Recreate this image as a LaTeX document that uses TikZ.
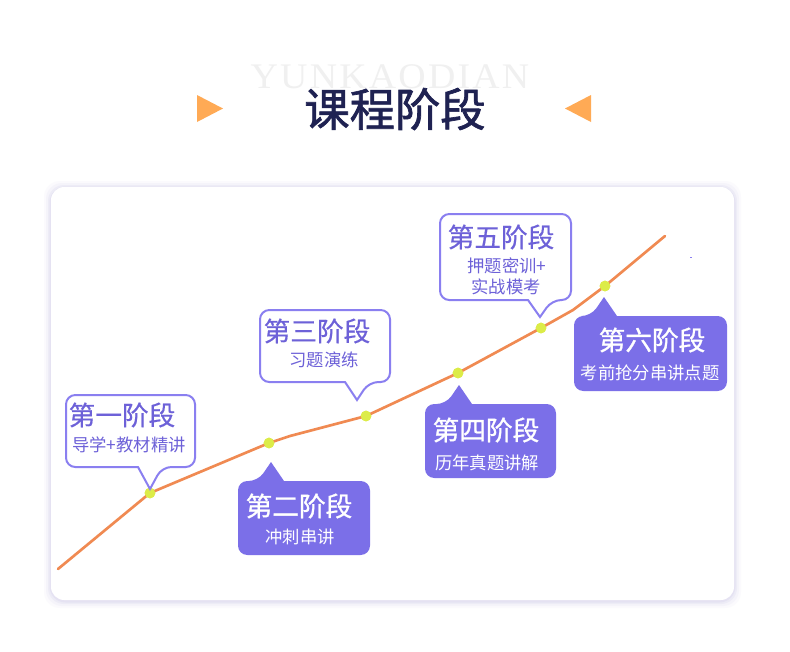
\documentclass[tikz,border=0pt]{standalone}
\usepackage{fontspec}
\setmainfont{Liberation Serif}
\newfontfamily\cjk{Noto Sans CJK SC}
\newfontfamily\cjkm{Noto Sans CJK SC}[FakeBold=0.5]
\newfontfamily\cjkh{Noto Sans CJK SC}[FakeBold=1]
\newfontfamily\cjkb{Noto Sans CJK SC}[BoldFont=*,AutoFakeBold=1.5]
\newfontfamily\bgfont{Liberation Serif}[LetterSpace=6]
\definecolor{navy}{HTML}{1F2252}
\definecolor{tri}{HTML}{FFAA55}
\definecolor{pline}{HTML}{8A7FF0}
\definecolor{pfill}{HTML}{7B6FE8}
\definecolor{ptext}{HTML}{6D61D8}
\definecolor{curve}{HTML}{F08A52}
\definecolor{dotc}{HTML}{DCEC48}
\definecolor{shad}{HTML}{D9D5EE}
\tikzset{
  outl/.style={draw=pline,line width=1.5pt,fill=white},
  filb/.style={fill=pfill},
  headO/.style={text=ptext,font=\cjkm\fontsize{20}{22}\selectfont,inner sep=0pt},
  subO/.style={text=ptext,font=\cjk\fontsize{13}{14}\selectfont,inner sep=0pt},
  headF/.style={text=white,font=\cjkh\fontsize{20}{22}\selectfont,inner sep=0pt},
  subF/.style={text=white,font=\cjk\fontsize{13}{14}\selectfont,inner sep=0pt},
  dotn/.style={circle,fill=dotc,minimum size=8pt,inner sep=0pt},
}
% callout with tail pointing down
\newcommand\calldown[8]{%
  \path[#8] (#1,#2) [rounded corners=7] -- (#3,#2) -- (#3,#4) -- (#5+12,#4) [sharp corners] -- (#6,#7) -- (#5-12,#4) [rounded corners=7] -- (#1,#4) -- cycle;}
\newcommand\callup[8]{%
  \path[#8] (#1,#4) [rounded corners=7] -- (#1,#2) -- (#5-13,#2) [sharp corners] -- (#6,#7) -- (#5+13,#2) [rounded corners=7] -- (#3,#2) -- (#3,#4) -- cycle;}
\begin{document}
\begin{tikzpicture}[x=0.75pt,y=-0.75pt]
\useasboundingbox (0,0) rectangle (790,651);
\fill[white] (0,0) rectangle (790,651);
% background lettering
\node[text=black!6,font=\bgfont\fontsize{27}{27}\selectfont,inner sep=0pt,xscale=1.05] (bg) at (390,77) {YUNKAODIAN};
% title
\node[text=navy,font=\cjkb\bfseries\fontsize{34}{36}\selectfont,inner sep=0pt] (title) at (395,109) {课程阶段};
\fill[tri] (197,95) -- (223,108.5) -- (197,122) -- cycle;
\fill[tri] (591,95) -- (565,108.5) -- (591,122) -- cycle;
% card with shadow
\foreach \i/\o in {7/0.10,5/0.15,3/0.25,1.5/0.4}{
  \fill[shad,opacity=\o,rounded corners=12] (51-\i,187-\i+1) rectangle (734+\i,600+\i+1);}
\fill[white,rounded corners=10] (51,187) rectangle (734,600);
% curve
\node[dotn] (d1) at (150,493) {};
\node[dotn] (d2) at (269,443) {};
\node[dotn] (d3) at (366,416) {};
\node[dotn] (d4) at (458,373) {};
\node[dotn] (d5) at (541,328) {};
\node[dotn] (d6) at (605,286) {};
\coordinate (s) at (58,569);
\coordinate (b1) at (290,436);
\coordinate (b2) at (573,310);
\coordinate (e) at (665,236);
\draw[curve,line width=2pt,line join=round,line cap=round] (s) -- (d1.center) -- (d2.center) -- (b1) -- (d3.center) -- (d4.center) -- (d5.center) -- (b2) -- (d6.center) -- (e);
\foreach \n in {d1,d2,d3,d4,d5,d6} \node[dotn] at (\n) {};
\fill[pline] (690,256.5) rectangle (692,257.5);
% callouts
\calldown{66}{395}{195}{467}{150}{150}{489}{outl}
\node[headO] (h1) at (122,415) {第一阶段};
\node[subO] (s1) at (129,445) {导学+教材精讲};

\callup{238}{481}{370}{555}{271}{271}{462}{filb}
\node[headF] (h2) at (299,506) {第二阶段};
\node[subF] (s2) at (300,537) {冲刺串讲};

\calldown{260}{310}{390}{382}{357}{357}{400}{outl}
\node[headO] (h3) at (317,331) {第三阶段};
\node[subO] (s3) at (324,360) {习题演练};

\callup{425}{404}{556}{478}{459}{459}{385}{filb}
\node[headF] (h4) at (486,430) {第四阶段};
\node[subF] (s4) at (487,463) {历年真题讲解};

\calldown{440}{214}{571}{300}{540}{540}{317}{outl}
\node[headO] (h5) at (501,237) {第五阶段};
\node[subO] (s5) at (507,266) {押题密训+};
\node[subO] (s6) at (506,287) {实战模考};

\callup{574}{316}{727}{391}{604}{604}{297}{filb}
\node[headF] (h6) at (652,340) {第六阶段};
\node[subF] (s7) at (650,373) {考前抢分串讲点题};
\end{tikzpicture}
\end{document}
